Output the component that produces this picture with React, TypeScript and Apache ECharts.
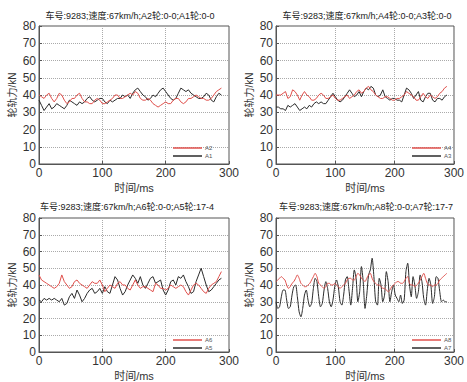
import React, { useEffect, useRef } from "react";
import * as echarts from "echarts";

const xTicks = [0, 100, 200, 300];
const yTicks = [0, 10, 20, 30, 40, 50, 60, 70, 80];

const titles = [
  "车号:9283;速度:67km/h;A2轮:0-0;A1轮:0-0",
  "车号:9283;速度:67km/h;A4轮:0-0;A3轮:0-0",
  "车号:9283;速度:67km/h;A6轮:0-0;A5轮:17-4",
  "车号:9283;速度:67km/h;A8轮:0-0;A7轮:17-7",
];
const yName = "轮轨力/kN";
const xName = "时间/ms";

// sample step (ms) per panel
const steps = [4, 4, 4, 3];

const A2 = [40,39,38,40,41,38,36,38,41,40,37,35,36,38,38,40,41,38,36,36,35,35,37,38,37,35,35,36,37,38,40,40,38,38,39,40,41,40,42,41,38,37,37,38,37,35,34,33,34,35,36,35,35,37,38,38,36,35,36,38,38,39,40,39,38,38,37,37,38,40,42,43,44];
const A1 = [37,34,31,33,35,32,33,35,34,33,32,34,37,36,35,34,36,35,36,38,39,37,36,37,38,38,36,35,37,36,37,38,38,40,39,40,38,41,43,44,42,40,39,37,38,40,39,41,43,44,42,40,38,37,38,41,44,43,42,43,41,40,39,38,38,39,41,40,37,36,39,41,40];
const A4 = [40,40,40,41,42,38,39,43,42,40,37,40,42,40,39,37,37,38,40,41,40,38,38,39,40,38,37,37,38,39,40,38,39,40,42,43,41,42,44,45,43,42,40,39,38,38,39,39,38,37,37,38,38,39,40,42,41,40,39,37,37,39,41,39,38,40,39,38,39,41,42,44,45];
const A3 = [33,33,32,32,31,34,33,34,35,33,31,32,33,32,34,33,35,36,35,36,35,35,37,39,41,39,37,36,37,39,41,43,41,39,40,42,39,42,44,43,45,44,40,39,40,43,39,38,37,38,38,37,37,36,40,44,43,41,38,40,42,37,36,39,41,41,37,36,38,38,37,39,40];
const A6 = [46,43,42,41,40,39,38,39,41,46,42,40,38,39,42,43,41,40,39,38,40,42,41,41,43,40,36,38,40,39,38,41,42,40,40,38,37,40,43,40,38,39,39,38,37,36,41,40,38,38,37,38,40,39,38,39,40,39,36,34,37,40,41,40,38,36,35,38,40,41,42,45,48];
const A5 = [31,30,32,31,32,31,32,31,30,32,28,29,33,35,32,37,34,30,32,35,37,38,35,36,38,35,39,36,35,40,45,43,38,34,36,40,43,46,44,41,45,40,38,41,44,45,41,42,43,37,34,37,42,43,40,45,44,46,42,39,35,36,42,46,50,45,40,36,37,39,41,43,44];
const A8 = [42,43,44,45,44,43,40,38,39,41,42,44,46,44,41,40,39,39,40,41,43,45,47,45,41,40,39,38,39,41,41,40,40,41,40,39,38,39,40,41,43,44,44,43,43,45,47,46,44,43,42,44,46,47,44,42,41,40,40,39,38,38,37,36,37,39,40,41,42,42,41,41,42,44,45,41,40,40,39,40,41,43,45,47,44,41,40,40,39,40,40,41,43,44,45,46,47];
const A7 = [30,26,27,33,37,37,31,26,27,34,39,40,33,24,21,26,34,37,31,27,29,38,44,42,33,27,29,37,42,38,30,27,31,39,43,39,30,28,34,43,45,37,28,38,49,44,30,36,51,42,26,34,46,49,56,45,30,28,44,40,30,34,48,42,30,36,40,34,32,30,34,29,31,48,53,40,33,45,40,32,36,46,42,32,28,37,44,40,29,33,45,44,36,30,31,30,30];

const panels = [
  { red: A2, black: A1, redName: "A2", blackName: "A1" },
  { red: A4, black: A3, redName: "A4", blackName: "A3" },
  { red: A6, black: A5, redName: "A6", blackName: "A5" },
  { red: A8, black: A7, redName: "A8", blackName: "A7" },
];
const smoothing = [0, 0, 0, 0.25];

const grids = [
  { left: 39, top: 26, width: 190, height: 138 },
  { left: 276, top: 26, width: 188, height: 138 },
  { left: 39, top: 218, width: 190, height: 139 },
  { left: 276, top: 218, width: 188, height: 139 },
];
const titlePos = [
  [130, 16],
  [367, 16],
  [127, 207],
  [366, 207],
];
const legendPos = [
  [173, 145],
  [412, 145],
  [173, 337],
  [412, 337],
];

const FONT = "Liberation Sans, Arial, Noto Sans CJK SC, sans-serif";
const RED = "#e0504c";
const BLACK = "#2b2b2b";

export default function App() {
  const ref = useRef<HTMLDivElement>(null);
  useEffect(() => {
    document.body.style.margin = "0";
    if (!ref.current) return;
    const chart = echarts.init(ref.current, undefined, { renderer: "svg" });
    const toPairs = (arr: number[], step: number) => arr.map((v, i) => [i * step, v]);
    const series: any[] = [];
    panels.forEach((p, i) => {
      series.push({
        type: "line",
        name: p.blackName,
        xAxisIndex: i,
        yAxisIndex: i,
        data: toPairs(p.black, steps[i]),
        showSymbol: false,
        symbol: "none",
        smooth: smoothing[i],
        lineStyle: { color: BLACK, width: 1 },
        itemStyle: { color: BLACK },
        z: 2,
      });
      series.push({
        type: "line",
        name: p.redName,
        xAxisIndex: i,
        yAxisIndex: i,
        data: toPairs(p.red, steps[i]),
        showSymbol: false,
        symbol: "none",
        smooth: smoothing[i],
        lineStyle: { color: RED, width: 1 },
        itemStyle: { color: RED },
        z: 3,
      });
    });
    const option: any = {
      animation: false,
      backgroundColor: "#ffffff",
      textStyle: { fontFamily: FONT },
      grid: grids.map((g) => ({
        ...g,
        show: true,
        borderColor: "#555",
        borderWidth: 1,
        backgroundColor: "#fff",
        containLabel: false,
      })),
      xAxis: grids.map((_, i) => ({
        type: "value",
        gridIndex: i,
        min: xTicks[0],
        max: xTicks[xTicks.length - 1],
        interval: 100,
        name: xName,
        nameLocation: "middle",
        nameGap: 18,
        nameTextStyle: { fontSize: 11, color: "#333", fontFamily: FONT },
        axisLine: { show: true, lineStyle: { color: "#555", width: 1 } },
        axisTick: { show: true, inside: true, length: 3, lineStyle: { color: "#555" } },
        axisLabel: { fontSize: 12, color: "#333", margin: 3, fontFamily: FONT },
        splitLine: { show: true, lineStyle: { color: "#aaa", type: "dotted", width: 1 } },
      })),
      yAxis: grids.map((_, i) => ({
        type: "value",
        gridIndex: i,
        min: yTicks[0],
        max: yTicks[yTicks.length - 1],
        interval: 10,
        name: yName,
        nameLocation: "middle",
        nameGap: 22,
        nameRotate: 90,
        nameTextStyle: { fontSize: 10, color: "#333", fontFamily: FONT },
        axisLine: { show: true, lineStyle: { color: "#555", width: 1 } },
        axisTick: { show: true, inside: true, length: 3, lineStyle: { color: "#555" } },
        axisLabel: { fontSize: 12, color: "#333", margin: 3, fontFamily: FONT },
        splitLine: { show: true, lineStyle: { color: "#aaa", type: "dotted", width: 1 } },
      })),
      legend: panels.map((p, i) => ({
        orient: "vertical",
        left: legendPos[i][0],
        top: legendPos[i][1],
        data: [p.redName, p.blackName],
        icon: "rect",
        itemWidth: 29,
        itemHeight: 1.5,
        itemGap: 2,
        padding: 0,
        selectedMode: false,
        textStyle: { fontSize: 6, color: "#555", fontFamily: FONT, padding: [0, 0, 0, -2] },
      })),
      graphic: titles.map((t, i) => ({
        type: "text",
        x: titlePos[i][0],
        y: titlePos[i][1],
        style: {
          text: t,
          fill: "#222",
          font: `9px ${FONT}`,
          textAlign: "center",
          textVerticalAlign: "middle",
        },
      })),
      series,
    };
    chart.setOption(option);
    return () => chart.dispose();
  }, []);
  return <div ref={ref} style={{ width: 467, height: 382, position: "absolute", left: 0, top: 0 }} />;
}
